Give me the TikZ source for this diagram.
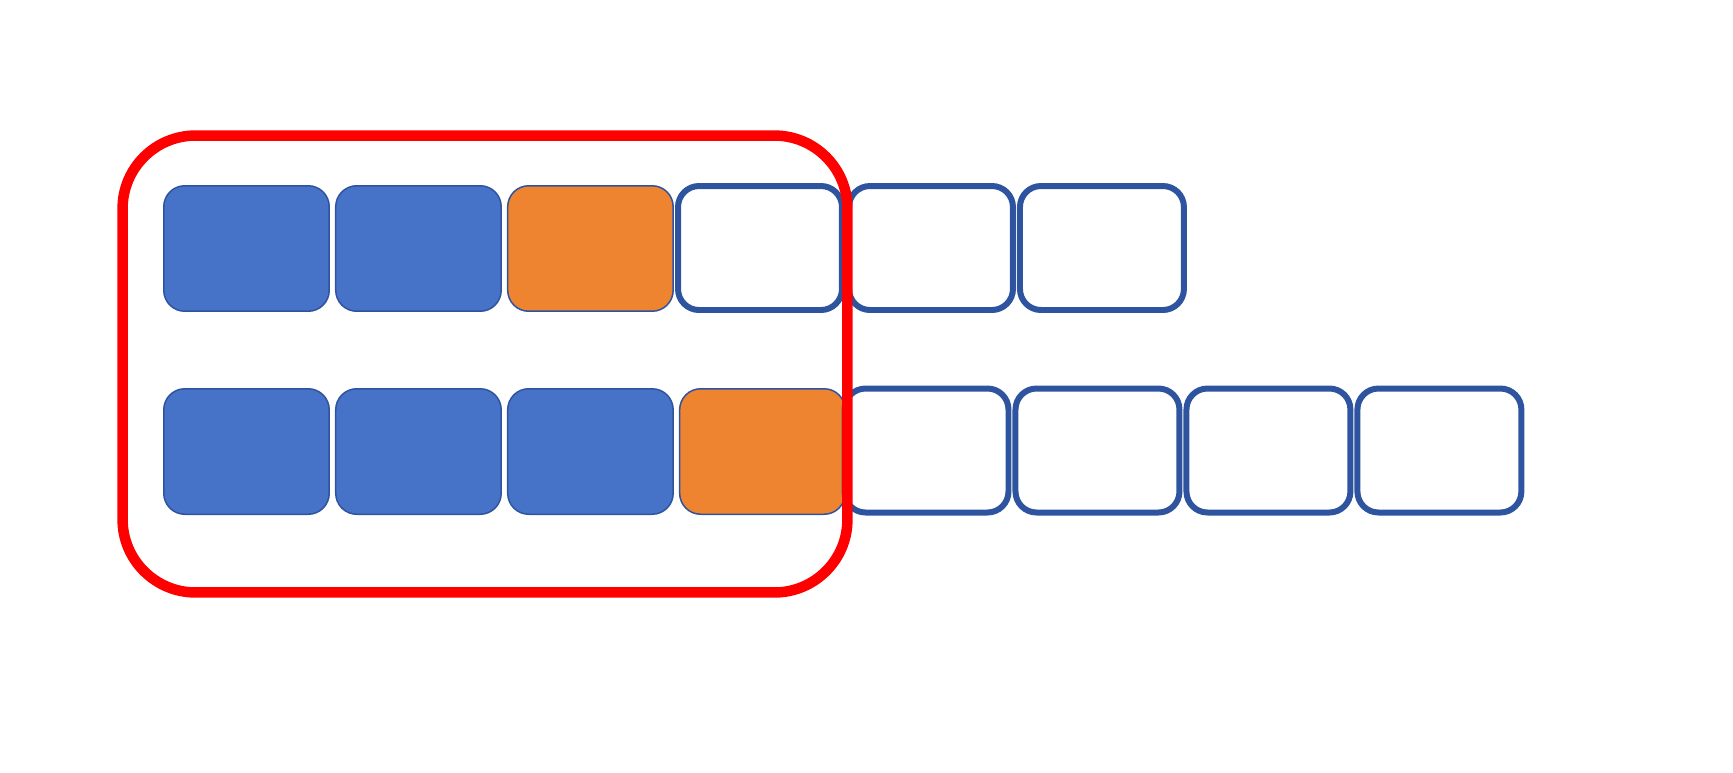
\documentclass[tikz,border=0pt]{standalone}
\usetikzlibrary{positioning}
\definecolor{boxblue}{HTML}{4673C8}
\definecolor{boxorange}{HTML}{EE8330}
\definecolor{boxline}{HTML}{2F549F}
\def\mygap{0.1cm}
\def\mytight{0.02cm}
\tikzset{
my node/.style={rectangle,rounded corners=0.42cm,inner sep=0mm},
my used/.style={draw=boxline,my node,line width=0.03cm,minimum width=3.31cm,minimum height=2.51cm},
my done/.style={my used,fill=boxblue},
my next/.style={my used,fill=boxorange},
my free/.style={draw=boxline,my node,line width=0.12cm,minimum width=3.28cm,minimum height=2.48cm},
my window/.style={draw=red,line width=0.21cm,rounded corners=1.46cm,minimum width=14.5cm,minimum height=9.14cm,inner sep=0mm}
}
\begin{document}
\begin{tikzpicture}[x=0.02cm,y=-0.02cm]
\useasboundingbox (0,0) rectangle (1733,772);
% upper row
\node[my done] (t1) at (246.5,248.5) {};
\node[my done] (t2) [right=\mygap of t1] {};
\node[my next] (t3) [right=\mygap of t2] {};
\node[my free] (t4) at (760,248) {};
\node[my free] (t5) [right=\mytight of t4] {};
\node[my free] (t6) [right=\mytight of t5] {};
% lower row
\node[my done] (b1) at (246.5,451.5) {};
\node[my done] (b2) [right=\mygap of b1] {};
\node[my done] (b3) [right=\mygap of b2] {};
\node[my next] (b4) [right=\mygap of b3] {};
\node[my free] (b5) at (926.5,450.5) {};
\node[my free] (b6) [right=\mytight of b5] {};
\node[my free] (b7) [right=\mytight of b6] {};
\node[my free] (b8) [right=\mytight of b7] {};
% window on top
\node[my window] (win) at (485,364) {};
\end{tikzpicture}
\end{document}
